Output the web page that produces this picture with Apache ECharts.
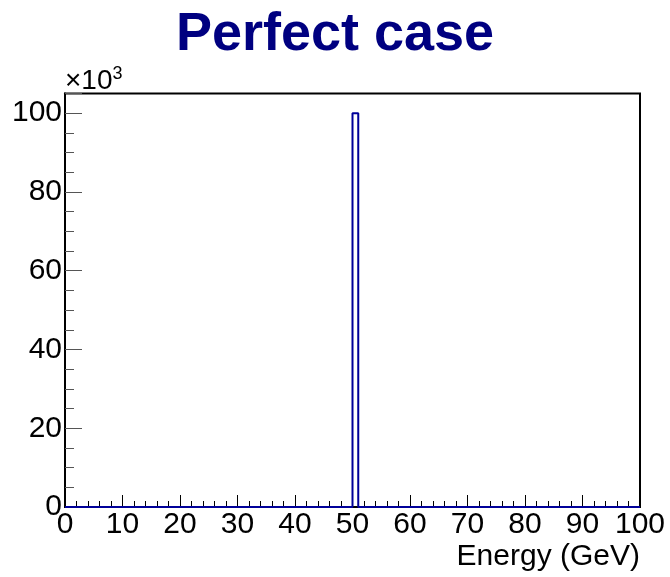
<!DOCTYPE html>
<html>
<head>
<meta charset="utf-8">
<script src="https://cdn.jsdelivr.net/npm/echarts@6/dist/echarts.min.js"></script>
<style>html,body{margin:0;padding:0;background:#fff;}#c{width:670px;height:577px;}</style>
</head>
<body>
<div id="c"></div>
<script>
// Histogram: 100 bins of width 1 GeV from 0 to 100
var binLow = [];
for (var i = 0; i < 100; i++) binLow.push(i);
var binCounts = [0,0,0,0,0,0,0,0,0,0, 0,0,0,0,0,0,0,0,0,0,
                 0,0,0,0,0,0,0,0,0,0, 0,0,0,0,0,0,0,0,0,0,
                 0,0,0,0,0,0,0,0,0,0, 100000,0,0,0,0,0,0,0,0,0,
                 0,0,0,0,0,0,0,0,0,0, 0,0,0,0,0,0,0,0,0,0,
                 0,0,0,0,0,0,0,0,0,0, 0,0,0,0,0,0,0,0,0,0];
var xTicks = [0,10,20,30,40,50,60,70,80,90,100];
var yTicks = [0,20,40,60,80,100]; // in units of 10^3

var stepData = binLow.map(function(x, i){ return [x, binCounts[i]]; });
stepData.push([100, binCounts[99]]);

var chart = echarts.init(document.getElementById('c'), null, {renderer: 'canvas'});
var font = '"Liberation Sans", Arial, Helvetica, sans-serif';
chart.setOption({
  animation: false,
  backgroundColor: '#fff',
  title: {
    text: 'Perfect case',
    left: 'center',
    top: 3,
    textStyle: {fontFamily: font, fontWeight: 'bold', fontSize: 54, color: '#000080'}
  },
  grid: {
    left: 65, right: 30, top: 93.5, bottom: 70,
    show: true, borderColor: '#000', borderWidth: 2, backgroundColor: 'transparent'
  },
  xAxis: {
    type: 'value', min: 0, max: 100, interval: 10,
    axisLine: {show: true, onZero: false, lineStyle: {color: '#000', width: 2}},
    axisTick: {show: true, inside: true, length: 12, lineStyle: {color: '#000', width: 1}},
    minorTick: {show: true, splitNumber: 5, length: 6, lineStyle: {color: '#000', width: 1}},
    splitLine: {show: false},
    axisLabel: {fontFamily: font, fontSize: 30, color: '#000', margin: 3,
      formatter: function(v){ return xTicks.indexOf(v) >= 0 ? String(v) : ''; }},
    name: 'Energy (GeV)',
    nameLocation: 'end',
    nameGap: 0,
    nameTextStyle: {fontFamily: font, fontSize: 30, color: '#000', align: 'right', verticalAlign: 'top', padding: [35, 0, 0, 0]}
  },
  yAxis: {
    type: 'value', min: 0, max: 105000, interval: 20000,
    axisLine: {show: true, lineStyle: {color: '#000', width: 2}},
    axisTick: {show: true, inside: true, length: 17, lineStyle: {color: '#555', width: 1}},
    minorTick: {show: true, splitNumber: 4, length: 9, lineStyle: {color: '#555', width: 1}},
    splitLine: {show: false},
    axisLabel: {fontFamily: font, fontSize: 30, color: '#000', margin: 3,
      formatter: function(v){ var k = v/1000; return yTicks.indexOf(k) >= 0 ? String(k) : ''; }},
    name: '×10{sup|3}',
    nameLocation: 'end',
    nameGap: -3,
    nameTextStyle: {fontFamily: font, fontSize: 28, color: '#000', align: 'left', verticalAlign: 'bottom',
      rich: {sup: {fontFamily: font, fontSize: 18, color: '#000', verticalAlign: 'top', padding: [0,0,13,0]}}}
  },
  series: [{
    type: 'line',
    step: 'end',
    data: stepData,
    showSymbol: false,
    symbol: 'none',
    clip: false,
    lineStyle: {color: '#000099', width: 2}
  }]
});
</script>
</body>
</html>
